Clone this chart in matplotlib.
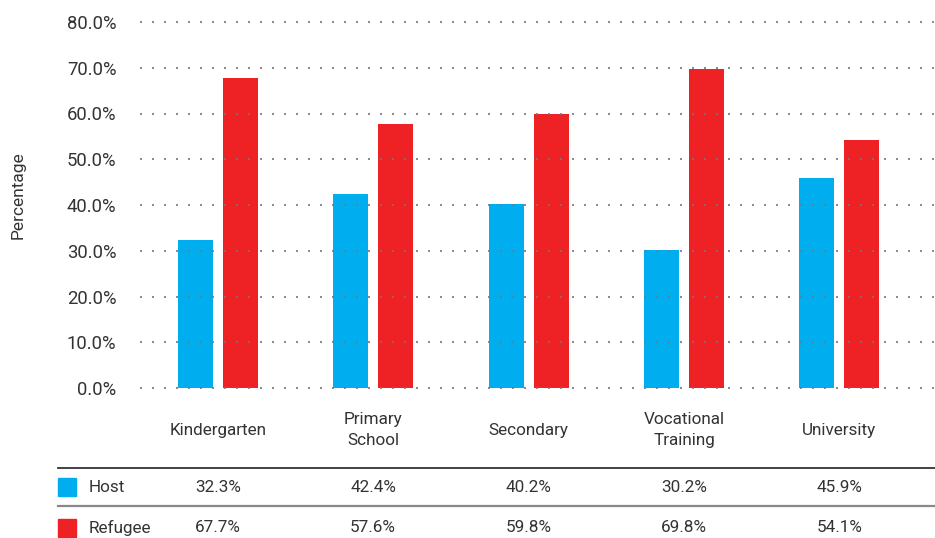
import numpy as np
import matplotlib
matplotlib.use("Agg")
import matplotlib.pyplot as plt
from matplotlib.transforms import blended_transform_factory
from matplotlib.lines import Line2D
from matplotlib.patches import Rectangle

plt.rcParams['font.family'] = ['Roboto', 'DejaVu Sans']

categories = ['Kindergarten', 'Primary\nSchool', 'Secondary', 'Vocational\nTraining', 'University']
host = [32.3, 42.4, 40.2, 30.2, 45.9]
refugee = [67.7, 57.6, 59.8, 69.8, 54.1]
series_names = ['Host', 'Refugee']
yticks = [0, 10, 20, 30, 40, 50, 60, 70, 80]

host_col = '#00AEEF'
ref_col = '#EE2124'
txt_col = '#333333'

fig = plt.figure(figsize=(9.35, 5.38), dpi=100)
ax = fig.add_axes([140/935, 150/538, 795/935, 366/538])

x = np.arange(len(categories))
w = 0.225
off = 0.145
ax.bar(x - off, host, w, color=host_col, zorder=1)
ax.bar(x + off, refugee, w, color=ref_col, zorder=1)

ax.set_xlim(-0.5, 4.615)
ax.set_ylim(0, 80)
ax.set_yticks(yticks)
ax.set_yticklabels(['%.1f%%' % v for v in yticks], fontsize=13.3, color=txt_col)
ax.tick_params(axis='y', length=0, pad=17)
ax.set_xticks([])
for s in ax.spines.values():
    s.set_visible(False)
for v in yticks:
    ax.axhline(v, color='#777777', lw=1.2, linestyle=(0, (1.2, 6)), zorder=2, clip_on=False)

fig.text(18/935, 1 - 195/538, 'Percentage', rotation=90, ha='center', va='center',
         fontsize=12.5, color=txt_col)

# category labels and data table
tr = blended_transform_factory(ax.transData, fig.transFigure)
for i, c in enumerate(categories):
    ax.text(i, 1 - 430/538, c, transform=tr, ha='center', va='center',
            fontsize=12.3, color=txt_col, linespacing=1.5, clip_on=False)
    ax.text(i, 1 - 488/538, '%.1f%%' % host[i], transform=tr, ha='center', va='center',
            fontsize=12.3, color=txt_col, clip_on=False)
    ax.text(i, 1 - 528/538, '%.1f%%' % refugee[i], transform=tr, ha='center', va='center',
            fontsize=12.3, color=txt_col, clip_on=False)

fig.add_artist(Line2D([58/935, 1], [1 - 467.5/538] * 2, color='#333333', lw=1.3))
fig.add_artist(Line2D([58/935, 1], [1 - 506/538] * 2, color='#888888', lw=1.6))

for name, col, yc in [(series_names[0], host_col, 487), (series_names[1], ref_col, 528)]:
    fig.add_artist(Rectangle((58/935, 1 - (yc + 9)/538), 18/935, 18/538,
                             color=col, transform=fig.transFigure))
    fig.text(89/935, 1 - yc/538, name, ha='left', va='center', fontsize=12.3, color=txt_col)

fig.savefig('out.png', dpi=100)
